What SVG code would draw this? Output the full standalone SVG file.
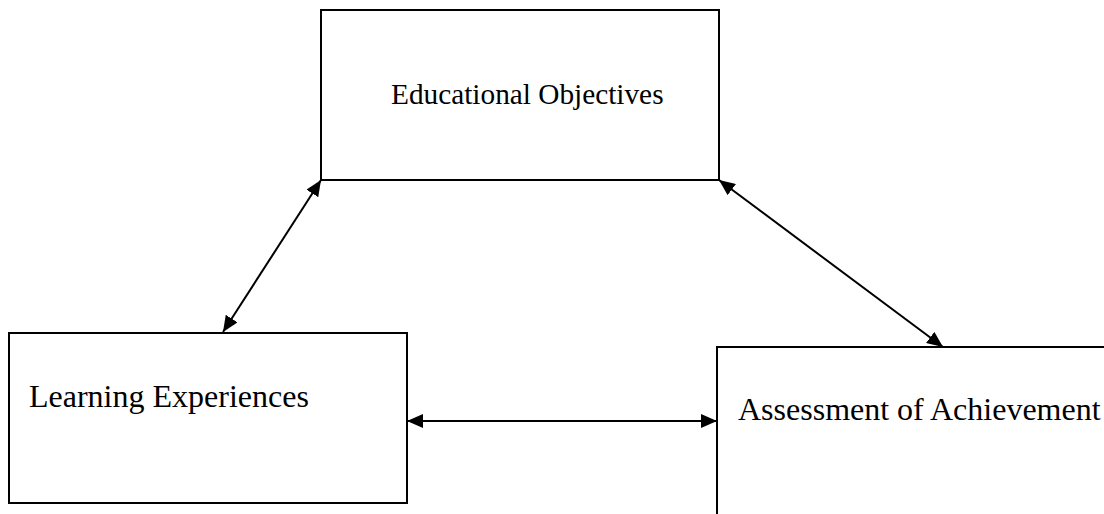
<svg xmlns="http://www.w3.org/2000/svg" width="1104" height="514" viewBox="0 0 1104 514">
<style>
.box{fill:#fff;stroke:#000;stroke-width:2}
.lbl{font-family:"Liberation Serif","Times New Roman",serif;fill:#000}
.con{stroke:#000;stroke-width:2;fill:none;marker-start:url(#ah);marker-end:url(#ah)}
</style>
<defs>
<marker id="ah" markerUnits="userSpaceOnUse" markerWidth="16" markerHeight="14" refX="16" refY="7" orient="auto-start-reverse" viewBox="0 0 16 14">
<path d="M0,0 L16,7 L0,14 Z" fill="#000"/>
</marker>
</defs>
<rect width="1104" height="514" fill="#fff"/>
<g id="educational-objectives">
<rect class="box" x="321" y="10" width="398" height="170"/>
<text class="lbl" x="391" y="104" font-size="29.3">Educational Objectives</text>
</g>
<g id="learning-experiences">
<rect class="box" x="9" y="333" width="398" height="170"/>
<text class="lbl" x="29" y="407" font-size="32">Learning Experiences</text>
</g>
<g id="assessment-of-achievement">
<rect class="box" x="717" y="347" width="398" height="175"/>
<text class="lbl" x="738" y="420" font-size="32">Assessment of Achievement</text>
</g>
<g id="connectors">
<line class="con" x1="321" y1="180" x2="223" y2="332"/>
<line class="con" x1="719" y1="180" x2="943" y2="347"/>
<line class="con" x1="407" y1="421" x2="717" y2="421"/>
</g>
</svg>
